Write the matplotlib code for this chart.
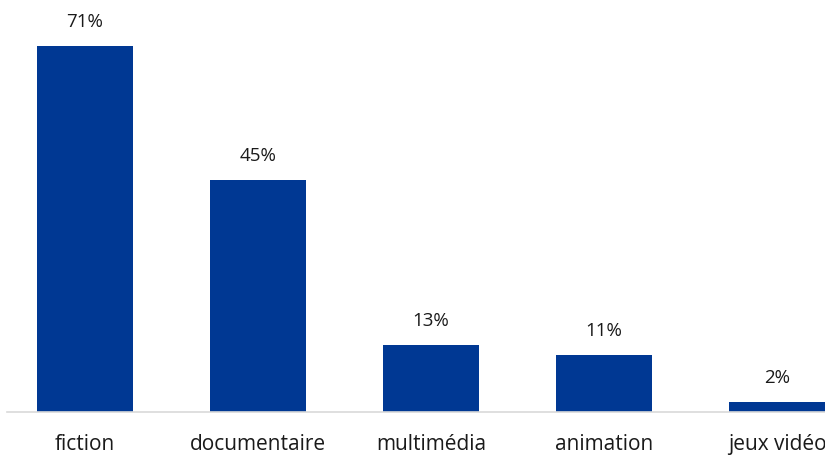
import matplotlib.pyplot as plt

categories = ["fiction", "documentaire", "multimédia", "animation", "jeux vidéo"]
values = [71, 45, 13, 11, 2]
labels = ["71%", "45%", "13%", "11%", "2%"]

plt.rcParams['font.family'] = ['Open Sans', 'DejaVu Sans']

fig = plt.figure(figsize=(8.25, 4.56), dpi=100)
ax = fig.add_axes([7/825, 43/456, 818/825, 413/456])
x = range(len(categories))
bars = ax.bar(x, values, width=0.55, color="#003893", zorder=2)
for xi, v, lab in zip(x, values, labels):
    ax.annotate(lab, (xi, v), xytext=(0, 18), textcoords="offset points",
                ha="center", va="center", fontsize=13.5, color="#1a1a1a")

ax.set_xlim(-0.451, 4.277)
ax.set_ylim(0, 80.1)
ax.set_xticks(list(x))
ax.set_xticklabels(categories, fontsize=15, color="#1a1a1a")
ax.tick_params(axis="x", length=0, pad=15)
ax.set_yticks([])
for s in ["top", "right", "left"]:
    ax.spines[s].set_visible(False)
ax.spines["bottom"].set_color("#d9d9d9")
ax.spines["bottom"].set_linewidth(1.2)

fig.savefig("out.png", dpi=100)
